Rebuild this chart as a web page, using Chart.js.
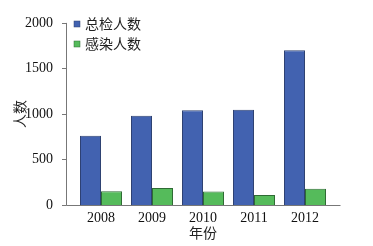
<!DOCTYPE html>
<html><head><meta charset="utf-8">
<script src="https://cdn.jsdelivr.net/npm/chart.js@4/dist/chart.umd.min.js"></script>
<style>html,body{margin:0;padding:0;background:#fff;}#wrap{width:373px;height:246px;}</style>
</head><body><div id="wrap"><canvas id="c" width="373" height="246"></canvas></div>
<script>
const categories = ["2008","2009","2010","2011","2012"];
const totalChecked = [760, 980, 1040, 1045, 1700];
const infected = [150, 186, 147, 109, 179];
const seriesNames = ["总检人数","感染人数"];
const yTicks = [0, 500, 1000, 1500, 2000];
const xTitle = "年份";
const yTitle = "人数";

const NUM_FONT = "'Liberation Serif', 'Times New Roman', serif";
const CJK_FONT = "'Noto Sans CJK SC', sans-serif";

const axisPlugin = {
  id: 'axisPlugin',
  afterDraw(chart) {
    const ctx = chart.ctx;
    const y = chart.scales.y;
    const ca = chart.chartArea;
    const ax = ca.left - 9.5;
    ctx.save();
    ctx.strokeStyle = '#777';
    ctx.lineWidth = 1;
    ctx.beginPath();
    ctx.moveTo(ax + 0.5, y.getPixelForValue(2000));
    ctx.lineTo(ax + 0.5, y.getPixelForValue(0) + 0.5);
    ctx.lineTo(ca.right + 10, y.getPixelForValue(0) + 0.5);
    yTicks.forEach(v => {
      const py = Math.round(y.getPixelForValue(v)) + 0.5;
      ctx.moveTo(ax - 4, py);
      ctx.lineTo(ax + 0.5, py);
    });
    ctx.stroke();
    // legend
    const ds = chart.data.datasets;
    ds.forEach((d, i) => {
      const ly = 24 + i * 20;
      ctx.fillStyle = d.backgroundColor;
      ctx.fillRect(74, ly - 3, 6, 6);
      ctx.strokeStyle = d.borderColor;
      ctx.lineWidth = 0.5;
      ctx.strokeRect(74, ly - 3, 6, 6);
      ctx.fillStyle = '#222';
      ctx.font = "14px " + CJK_FONT;
      ctx.textBaseline = 'middle';
      ctx.textAlign = 'left';
      ctx.fillText(d.label, 85, ly);
    });
    ctx.restore();
  }
};

new Chart(document.getElementById('c'), {
  type: 'bar',
  data: {
    labels: categories,
    datasets: [
      { label: seriesNames[0], data: totalChecked, backgroundColor: '#4262b0', borderColor: '#2e4272', borderWidth: 1, borderSkipped: 'bottom' },
      { label: seriesNames[1], data: infected, backgroundColor: '#55bb5b', borderColor: '#2f6b34', borderWidth: 1, borderSkipped: 'bottom' }
    ]
  },
  options: {
    responsive: false,
    animation: false,
    devicePixelRatio: 1,
    layout: { padding: { left: 0, right: 42.5, top: 15, bottom: 0 } },
    plugins: { legend: { display: false }, tooltip: { enabled: false } },
    datasets: { bar: { categoryPercentage: 0.824, barPercentage: 1 } },
    scales: {
      x: {
        grid: { display: false },
        border: { display: false },
        ticks: { color: '#111', font: { family: NUM_FONT, size: 14 }, padding: -3 },
        title: { display: true, text: xTitle, color: '#222', font: { family: CJK_FONT, size: 14 }, padding: { top: 0, bottom: 5 } },
        afterFit(s) { s.height = 41; }
      },
      y: {
        min: 0, max: 2000,
        afterBuildTicks(s) { s.ticks = yTicks.map(v => ({ value: v })); },
        grid: { display: false },
        border: { display: false },
        ticks: { color: '#111', font: { family: NUM_FONT, size: 14 }, padding: 14.5, callback: v => String(v) },
        title: { display: true, text: yTitle, color: '#222', font: { family: CJK_FONT, size: 14 }, padding: { top: 11, bottom: 0 } },
        afterFit(s) { s.width = 75.5; }
      }
    }
  },
  plugins: [axisPlugin]
});
</script></body></html>
